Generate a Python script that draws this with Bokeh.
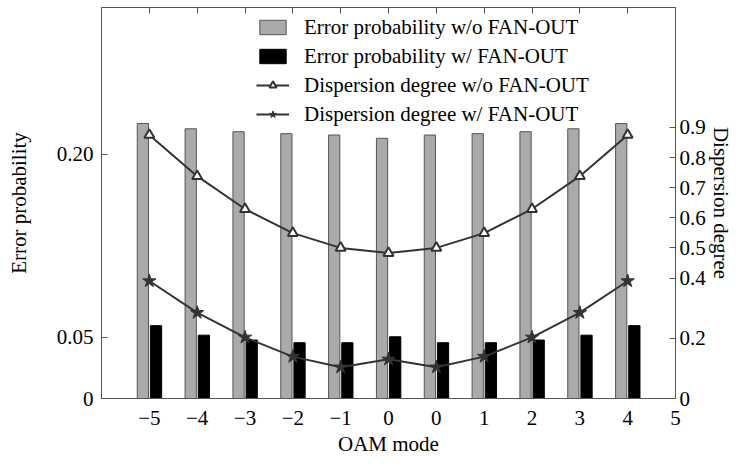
from bokeh.plotting import figure
from bokeh.models import (ColumnDataSource, Range1d, LinearAxis, FixedTicker,
                          Legend, LegendItem)
from bokeh.transform import dodge
from bokeh.embed import file_html
from bokeh.resources import INLINE

# ---- data ----
positions = [0, 1, 2, 3, 4, 5, 6, 7, 8, 9, 10]
tick_positions = [0, 1, 2, 3, 4, 5, 6, 7, 8, 9, 10, 11]
tick_labels = ["\u22125", "\u22124", "\u22123", "\u22122", "\u22121", "0", "0",
               "1", "2", "3", "4", "5"]
err_wo = [0.2253, 0.2210, 0.2186, 0.2170, 0.2159, 0.2132, 0.2159, 0.2170, 0.2186, 0.2210, 0.2253]
err_w = [0.0597, 0.0519, 0.0479, 0.0457, 0.0457, 0.0506, 0.0457, 0.0457, 0.0479, 0.0519, 0.0597]
disp_wo = [0.875, 0.738, 0.629, 0.549, 0.500, 0.483, 0.500, 0.549, 0.629, 0.738, 0.875]
disp_w = [0.390, 0.285, 0.203, 0.139, 0.104, 0.130, 0.104, 0.139, 0.203, 0.285, 0.390]
left_ticks = [0, 0.05, 0.20]
left_labels = ["0", "0.05", "0.20"]
right_ticks = [0, 0.2, 0.4, 0.5, 0.6, 0.7, 0.8, 0.9]
right_labels = ["0", "0.2", "0.4", "0.5", "0.6", "0.7", "0.8", "0.9"]

src = ColumnDataSource(dict(x=positions, err_wo=err_wo, err_w=err_w,
                            disp_wo=disp_wo, disp_w=disp_w))

FONT = "Liberation Serif"
FS = "21px"
FRAME = "#555555"

p = figure(width=735, height=458, output_backend="svg", toolbar_location=None,
           x_range=Range1d(-1, 11), y_range=Range1d(0, 0.3204),
           min_border_left=101, min_border_right=60, min_border_top=7,
           min_border_bottom=58)
p.extra_y_ranges = {"disp": Range1d(0, 1.298)}
p.xgrid.visible = False
p.ygrid.visible = False
p.outline_line_color = FRAME
p.background_fill_color = "white"
p.border_fill_color = "white"

gb = p.vbar(x=dodge("x", -0.135, range=p.x_range), top="err_wo", width=0.235,
            source=src, fill_color="#aaaaaa", line_color="#555555", line_width=1)
bb = p.vbar(x=dodge("x", 0.14, range=p.x_range), top="err_w", width=0.235,
            source=src, fill_color="black", line_color="black", line_width=1)

l1 = p.line("x", "disp_wo", source=src, y_range_name="disp", line_color="#333333",
            line_width=2)
m1 = p.scatter("x", "disp_wo", source=src, y_range_name="disp", marker="triangle",
               size=10, fill_color="white", line_color="#333333", line_width=2)
l2 = p.line("x", "disp_w", source=src, y_range_name="disp", line_color="#333333",
            line_width=2)
m2 = p.scatter("x", "disp_w", source=src, y_range_name="disp", marker="star",
               size=14, fill_color="#333333", line_color="#333333", line_width=1)

def style_axis(ax):
    ax.major_label_text_font = FONT
    ax.major_label_text_font_size = FS
    ax.major_label_text_color = "black"
    ax.axis_label_text_font = FONT
    ax.axis_label_text_font_size = FS
    ax.axis_label_text_font_style = "normal"
    ax.axis_label_text_color = "black"
    ax.axis_line_color = FRAME
    ax.major_tick_line_color = FRAME
    ax.minor_tick_line_color = None
    ax.major_tick_out = 0
    ax.major_tick_in = 6

# bottom axis
xa = p.xaxis[0]
style_axis(xa)
xa.ticker = FixedTicker(ticks=tick_positions)
xa.major_label_overrides = {t: l for t, l in zip(tick_positions, tick_labels)}
xa.major_tick_in = 0
xa.axis_label = "OAM mode"
xa.major_label_standoff = 12
xa.axis_label_standoff = 4

# left axis
ya = p.yaxis[0]
style_axis(ya)
ya.ticker = FixedTicker(ticks=left_ticks)
ya.major_label_overrides = {t: l for t, l in zip(left_ticks, left_labels)}
ya.axis_label = "Error probability"
ya.major_label_standoff = 8
ya.axis_label_standoff = 23

# right axis
ra = LinearAxis(y_range_name="disp")
style_axis(ra)
ra.ticker = FixedTicker(ticks=right_ticks)
ra.major_label_overrides = {t: l for t, l in zip(right_ticks, right_labels)}
ra.axis_label = "Dispersion degree"
ra.major_label_standoff = 4
ra.axis_label_standoff = 0
p.add_layout(ra, "right")

# top axis (ticks only)
ta = LinearAxis()
style_axis(ta)
ta.ticker = FixedTicker(ticks=positions)
ta.major_label_text_font_size = "0px"
ta.major_label_standoff = 0
ta.major_label_overrides = {t: "" for t in positions}
p.add_layout(ta, "above")

legend = Legend(items=[
    LegendItem(label="Error probability w/o FAN-OUT", renderers=[gb]),
    LegendItem(label="Error probability w/ FAN-OUT", renderers=[bb]),
    LegendItem(label="Dispersion degree w/o FAN-OUT", renderers=[l1, m1]),
    LegendItem(label="Dispersion degree w/ FAN-OUT", renderers=[l2, m2]),
], location=(155, 271))
legend.label_text_font = FONT
legend.label_text_font_size = FS
legend.label_text_color = "black"
legend.glyph_width = 33
legend.glyph_height = 18
legend.label_height = 26
legend.spacing = 3
legend.label_standoff = 15
legend.padding = 0
legend.margin = 0
legend.border_line_color = None
legend.background_fill_alpha = 0
p.add_layout(legend)

open("out.html", "w").write(file_html(p, INLINE))
